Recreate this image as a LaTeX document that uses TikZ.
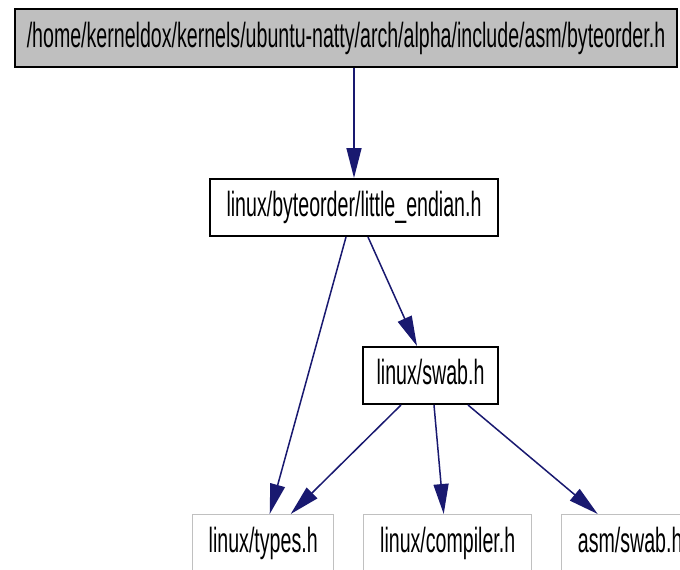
\documentclass[tikz,border=0pt]{standalone}
\usepackage{fontspec}
\setmainfont{Liberation Sans}
\usepackage{graphicx}
\usetikzlibrary{arrows.meta}

\definecolor{edgeblue}{HTML}{191970}
\definecolor{rootfill}{HTML}{BFBFBF}
\definecolor{faintgray}{HTML}{C0C0C0}

% condensed label text: narrow horizontally, tall vertically
\newcommand\filelabel[1]{\scalebox{0.56}[1]{\fontsize{35}{35}\selectfont #1}}

\tikzset{
  filebox/.style={draw=black, line width=2pt, anchor=north west, inner sep=0pt,
    minimum height=57pt, text height=25.5pt, text depth=7.5pt},
  rootbox/.style={filebox, fill=rootfill, minimum height=58pt},
  extbox/.style={filebox, draw=faintgray, line width=1.4pt},
  dep/.style={draw=edgeblue, line width=1.5pt,
    -{Triangle[length=30pt,width=15pt]}, shorten >=0pt}
}

\begin{document}
\begin{tikzpicture}[x=1pt,y=-1pt]
\path[use as bounding box, clip] (0,0) rectangle (680,570);
\fill[white] (0,0) rectangle (680,570);

\node[rootbox, minimum width=662pt] (top) at (14,8)
  {\filelabel{/home/kerneldox/kernels/ubuntu-natty/arch/alpha/include/asm/byteorder.h}};
\node[filebox, minimum width=288pt] (le) at (209,178)
  {\filelabel{linux/byteorder/little\_endian.h}};
\node[filebox, minimum width=135pt] (swab) at (362,346)
  {\filelabel{linux/swab.h}};
\node[extbox, minimum width=141pt] (types) at (192,514)
  {\filelabel{linux/types.h}};
\node[extbox, minimum width=168pt] (comp) at (363,514)
  {\filelabel{linux/compiler.h}};
\node[extbox, minimum width=137pt] (aswab) at (561,514)
  {\filelabel{asm/swab.h}};

\draw[dep] ([xshift=8pt]top.south) -- (le.north);
\draw[dep] ([xshift=-8pt]le.south) -- ([xshift=6.5pt]types.north);
\draw[dep] ([xshift=14pt]le.south) -- ([xshift=-13.5pt]swab.north);
\draw[dep] ([xshift=-29.5pt]swab.south) -- ([xshift=27.5pt]types.north);
\draw[dep] ([xshift=3.5pt]swab.south) -- ([xshift=-4pt]comp.north);
\draw[dep] ([xshift=37.5pt]swab.south) -- ([xshift=-32.5pt]aswab.north);
\end{tikzpicture}
\end{document}
